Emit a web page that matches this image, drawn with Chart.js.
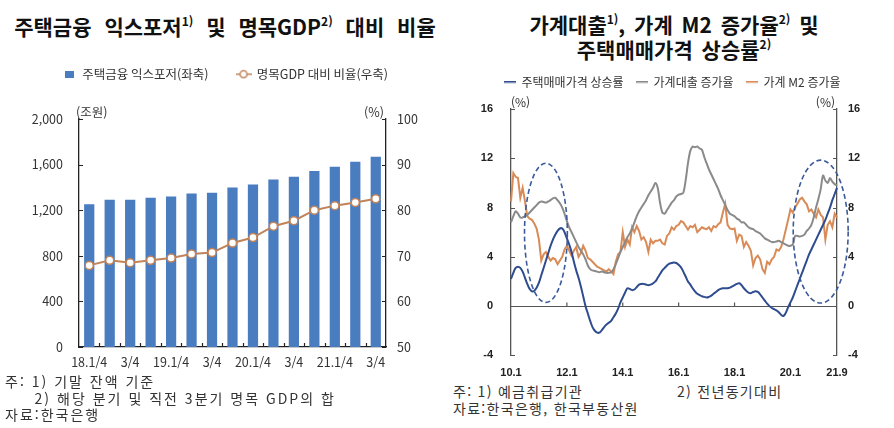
<!doctype html>
<html lang="ko">
<head>
<meta charset="utf-8">
<title>주택금융 익스포저 및 가계대출 증가율</title>
<script src="https://cdn.jsdelivr.net/npm/chart.js"></script>
<style>
    * { margin: 0; padding: 0; }
    body {
        width: 894px; height: 428px; position: relative; overflow: hidden;
        background: #fff; color: #222;
        font-family: "Noto Sans CJK KR", sans-serif;
    }
    .title {
        position: absolute; text-align: center; font-weight: 700;
        font-size: 21px; line-height: 25px; color: #111; word-spacing: 3px;
    }
    .title sup { font-size: 12px; vertical-align: 9px; line-height: 0; }
    .note {
        position: absolute; font-size: 14px; line-height: 16.5px;
        color: #333; letter-spacing: 2px; white-space: pre;
    }
    .note.r { letter-spacing: 1.3px; }
    canvas { position: absolute; }
</style>
</head>
<body>

<div class="title" style="left:0; top:14px; width:450px; word-spacing:7px;">주택금융 익스포저<sup>1)</sup> 및 명목GDP<sup>2)</sup> 대비 비율</div>
<div class="title" style="left:452px; top:12px; width:444px;">가계대출<sup>1)</sup>, 가계 M2 증가율<sup>2)</sup> 및<br>주택매매가격 상승률<sup>2)</sup></div>

<canvas id="leftChart" width="450" height="332" style="left:0; top:40px;"></canvas>
<canvas id="rightChart" width="444" height="316" style="left:450px; top:64px;"></canvas>

<div class="note" style="left:5px; top:373px;">주: 1) 기말 잔액 기준
     2) 해당 분기 및 직전 3분기 명목 GDP의 합
자료:한국은행</div>
<div class="note r" style="left:453px; top:383px;">주: 1) 예금취급기관
자료:한국은행, 한국부동산원</div>
<div class="note r" style="left:677px; top:383px;">2) 전년동기대비</div>

<script>
// ---- left chart: quarterly
const quarters = ['18.1/4', '2/4', '3/4', '4/4', '19.1/4', '2/4', '3/4', '4/4',
                  '20.1/4', '2/4', '3/4', '4/4', '21.1/4', '2/4', '3/4'];
const exposure = [1253, 1291, 1291, 1309, 1320, 1347, 1353, 1400, 1426, 1470, 1494, 1544, 1582, 1626, 1668];
const gdpRatio = [67.9, 69.0, 68.5, 69.0, 69.5, 70.4, 70.7, 72.8, 74.0, 76.5, 77.7, 80.0, 81.0, 81.7, 82.5];

// ---- right chart: monthly, 2010.1 ~ 2021.9
const months = [];
for (let yr = 10; yr <= 21; yr++) {
    for (let mo = 1; mo <= 12; mo++) {
        if (yr === 21 && mo > 9) break;
        months.push(yr + '.' + mo);
    }
}
const monthTicks = ['10.1', '12.1', '14.1', '16.1', '18.1', '20.1', '21.9'];

const houseRate = [
    2.2, 2.7, 3.1, 3.2, 3.1, 2.8, 2.3, 1.8, 1.4, 1.2,
    1.25, 1.5, 1.9, 2.5, 3.1, 3.7, 4.3, 4.9, 5.4, 5.8,
    6.1, 6.3, 6.3, 6.0, 5.5, 5.0, 4.4, 3.6, 2.9, 2.3,
    1.6, 0.8, 0.0, -0.6, -1.2, -1.7, -2.0, -2.15, -2.15, -1.95,
    -1.7, -1.5, -1.35, -1.2, -0.9, -0.6, -0.2, 0.3, 0.7, 1.1,
    1.45, 1.4, 1.3, 1.35, 1.55, 1.75, 1.8, 1.8, 1.75, 1.7,
    1.75, 1.85, 2.0, 2.3, 2.6, 2.9, 3.1, 3.3, 3.45, 3.5,
    3.55, 3.5, 3.35, 3.15, 2.8, 2.4, 2.0, 1.75, 1.45, 1.2,
    1.0, 0.9, 0.8, 0.75, 0.7, 0.75, 0.85, 1.0, 1.15, 1.3,
    1.4, 1.45, 1.45, 1.45, 1.5, 1.6, 1.7, 1.8, 1.85, 1.7,
    1.45, 1.25, 1.1, 1.05, 1.15, 1.2, 1.15, 0.95, 0.7, 0.45,
    0.2, 0.0, -0.15, -0.25, -0.35, -0.5, -0.7, -0.8, -0.55, -0.1,
    0.3, 0.7, 1.2, 1.7, 2.2, 2.7, 3.2, 3.7, 4.2, 4.6,
    5.0, 5.4, 5.8, 6.2, 6.6, 7.0, 7.5, 8.0, 8.6, 9.1,
    9.6
];
const loanRate = [
    6.8, 7.3, 7.7, 7.5, 7.2, 7.2, 7.3, 7.4, 7.6, 7.8,
    8.0, 8.2, 8.4, 8.5, 8.45, 8.4, 8.5, 8.6, 8.75, 8.8,
    8.6, 8.35, 8.0, 7.5, 6.9, 6.4, 6.0, 5.6, 5.2, 4.8,
    4.5, 4.2, 3.8, 3.3, 3.0, 2.9, 2.85, 2.8, 2.75, 2.8,
    2.75, 2.7, 2.7, 2.75, 3.0, 3.4, 3.9, 4.4, 4.8, 5.2,
    5.6, 5.9, 6.3, 6.8, 7.3, 7.7, 8.0, 8.3, 8.6, 9.0,
    9.3, 9.6, 10.0, 9.6, 8.4, 7.6, 7.5, 7.8, 8.1, 8.4,
    8.6, 8.9, 9.05, 9.1, 9.2, 10.2, 11.6, 12.6, 12.95, 12.9,
    12.95, 12.8, 12.7, 12.1, 11.6, 11.1, 10.7, 10.3, 9.9, 9.5,
    9.0, 8.6, 8.2, 7.8, 7.5, 7.4, 7.3, 7.1, 7.0, 6.8,
    6.8, 6.6, 6.4, 6.3, 6.25, 6.1, 6.0, 5.9, 5.7, 5.5,
    5.4, 5.3, 5.2, 5.2, 5.25, 5.3, 5.2, 5.1, 5.0, 4.9,
    4.9, 5.0, 5.7, 5.7, 5.65, 5.7, 5.8, 6.1, 6.3, 6.6,
    7.2, 8.0, 8.7, 9.5, 10.6, 10.2, 10.0, 10.4, 10.1, 9.9,
    9.8
];
const m2Rate = [
    8.5, 10.8, 10.5, 10.4, 8.8, 9.6, 8.5, 7.3, 7.1, 7.0,
    6.7, 6.3, 5.4, 3.7, 4.2, 4.4, 4.0, 3.7, 3.9, 3.8,
    3.4, 3.7, 4.0, 4.6, 4.9, 4.5, 4.1, 4.5, 4.8, 4.0,
    4.3, 4.9, 4.5, 3.9, 3.8, 3.6, 3.4, 3.2, 3.1, 3.0,
    2.9, 2.8, 3.0, 2.8, 2.6, 3.6, 4.2, 4.4, 6.0, 4.8,
    5.4, 5.0, 6.4, 6.0, 6.5, 6.1, 5.4, 5.6, 5.2, 4.4,
    5.4, 5.1, 5.3, 5.3, 5.4, 5.1, 5.0, 5.7, 5.9, 6.4,
    6.2, 6.5, 6.6, 6.9, 6.8, 6.5, 6.2, 6.5, 6.4, 6.6,
    6.0, 6.2, 6.4, 6.3, 6.25, 6.4, 6.1, 6.5, 6.4, 6.65,
    6.8, 7.6, 8.3, 6.6, 6.3, 6.25, 6.3, 5.3, 5.8, 5.7,
    4.8, 5.2, 4.9, 4.5, 3.3, 3.9, 4.1, 3.8, 3.0, 2.7,
    3.6, 3.4, 3.8, 4.0, 4.6, 4.5, 4.8, 5.4, 6.2, 7.0,
    7.85, 7.6, 8.0, 8.3, 8.66, 8.8, 8.5, 8.26, 7.7, 7.85,
    7.5, 7.2, 7.85, 7.4, 7.2, 5.4, 6.6, 6.9, 6.4, 7.5,
    7.2
];

// dashed circles, in data units: month index, value, radius in months / value
const highlights = [
    { m: 15, v: 5.95, rm: 9.2, rv: 5.65 },
    { m: 133, v: 6.05, rm: 11.8, rv: 5.8 }
];

Chart.defaults.font.family = '"Noto Sans CJK KR", sans-serif';
Chart.defaults.color = '#333';

// small legend icons
function icon(w, h, draw) {
    const c = document.createElement('canvas');
    c.width = w; c.height = h;
    draw(c.getContext('2d'));
    return c;
}
const barIcon = icon(9, 7, g => { g.fillStyle = '#4A7DC0'; g.fillRect(0, 0, 9, 7); });
const dotIcon = icon(16, 10, g => {
    g.strokeStyle = '#C0835A'; g.lineWidth = 1.5;
    g.beginPath(); g.moveTo(0, 5); g.lineTo(16, 5); g.stroke();
    g.fillStyle = '#fff'; g.beginPath(); g.arc(8, 5, 3.5, 0, Math.PI * 2); g.fill(); g.stroke();
});
const lineIcon = col => icon(12, 3, g => { g.fillStyle = col; g.fillRect(0, 0, 12, 2.2); });

// legend items in dataset order, each with its own icon
function legendItems(icons) {
    return function (chart) {
        const items = Chart.defaults.plugins.legend.labels.generateLabels(chart);
        items.sort((a, b) => a.datasetIndex - b.datasetIndex);
        items.forEach(it => { it.pointStyle = icons[it.datasetIndex]; });
        return items;
    };
}

// force the legend block height so the plot area lands where it should
function legendHeight(h) {
    return {
        id: 'legendHeight',
        beforeInit(chart) {
            const fit = chart.legend.fit;
            chart.legend.fit = function () { fit.call(this); this.height = h; };
        }
    };
}

// inward tick marks + unit labels
const axisMarks = {
    id: 'axisMarks',
    beforeDatasetsDraw(chart, args, opts) {
        const { ctx, chartArea: a, scales } = chart;
        ctx.save();
        ctx.strokeStyle = opts.color;
        ctx.lineWidth = 1.2;
        ctx.beginPath();
        scales.y.ticks.forEach(t => {
            const py = Math.round(scales.y.getPixelForValue(t.value)) + 0.5;
            ctx.moveTo(a.left, py); ctx.lineTo(a.left + 4, py);
        });
        scales.y2.ticks.forEach(t => {
            const py = Math.round(scales.y2.getPixelForValue(t.value)) + 0.5;
            ctx.moveTo(a.right, py); ctx.lineTo(a.right - 4, py);
        });
        if (opts.zeroLine) {
            const y0 = Math.round(scales.y.getPixelForValue(0)) + 0.5;
            ctx.moveTo(a.left, y0); ctx.lineTo(a.right, y0);
            opts.xMarks.forEach(lbl => {
                const px = scales.x.getPixelForValue(months.indexOf(lbl));
                ctx.moveTo(px, y0); ctx.lineTo(px, y0 - 4);
            });
        } else {
            const n = scales.x.ticks.length;
            const step = (a.right - a.left) / n;
            for (let i = 1; i < n; i++) {
                const px = Math.round(a.left + step * i) + 0.5;
                ctx.moveTo(px, a.bottom); ctx.lineTo(px, a.bottom - 4);
            }
        }
        ctx.stroke();

        ctx.fillStyle = '#333';
        ctx.font = opts.unitFont;
        ctx.textBaseline = 'bottom';
        ctx.textAlign = 'left';
        ctx.fillText(opts.leftUnit, a.left + opts.unitShift, a.top - 1);
        ctx.textAlign = 'right';
        ctx.fillText('(%)', a.right - 2, a.top - 1);
        ctx.restore();
    }
};

const ellipses = {
    id: 'ellipses',
    afterDatasetsDraw(chart) {
        const { ctx, scales: { x, y } } = chart;
        const unitX = x.getPixelForValue(1) - x.getPixelForValue(0);
        ctx.save();
        ctx.strokeStyle = '#3B5A9A';
        ctx.lineWidth = 1.6;
        ctx.setLineDash([5, 3]);
        highlights.forEach(h => {
            const cx = x.getPixelForValue(h.m);
            const cy = y.getPixelForValue(h.v);
            const ry = Math.abs(y.getPixelForValue(h.v + h.rv) - cy);
            ctx.beginPath();
            ctx.ellipse(cx, cy, h.rm * unitX, ry, 0, 0, Math.PI * 2);
            ctx.stroke();
        });
        ctx.restore();
    }
};

const leftFont = { size: 12.5 };
new Chart(document.getElementById('leftChart'), {
    data: {
        labels: quarters,
        datasets: [
            {
                type: 'bar', label: '주택금융 익스포저(좌축)', data: exposure,
                backgroundColor: '#4A7DC0', yAxisID: 'y',
                barPercentage: 0.5, categoryPercentage: 1, order: 2
            },
            {
                type: 'line', label: '명목GDP 대비 비율(우축)', data: gdpRatio,
                borderColor: '#C0835A', borderWidth: 2, yAxisID: 'y2',
                pointRadius: 4, pointBackgroundColor: '#fff',
                pointBorderColor: '#C0835A', pointBorderWidth: 1.5, order: 1
            }
        ]
    },
    options: {
        responsive: false,
        animation: false,
        plugins: {
            tooltip: { enabled: false },
            legend: {
                labels: {
                    usePointStyle: true, pointStyleWidth: 14, padding: 28,
                    font: { size: 12.5 }, color: '#333',
                    generateLabels: legendItems([barIcon, dotIcon])
                }
            },
            axisMarks: { color: '#222', leftUnit: '(조원)', unitShift: -3, unitFont: '12.5px "Noto Sans CJK KR"' }
        },
        scales: {
            x: {
                grid: { display: false, drawTicks: false },
                border: { color: '#222', width: 1.3 },
                ticks: {
                    autoSkip: false, maxRotation: 0, padding: 8, font: leftFont, color: '#333',
                    callback: (v, i) => (i % 2 === 0 ? quarters[i] : '')
                },
                afterFit(s) { s.height = 25; }
            },
            y: {
                position: 'left', min: 0, max: 2000,
                grid: { display: false, drawTicks: false },
                border: { color: '#222', width: 1.3 },
                ticks: {
                    stepSize: 400, padding: 16, font: leftFont, color: '#333',
                    callback: v => v.toLocaleString('en-US')
                },
                afterFit(s) { s.width = 79; }
            },
            y2: {
                position: 'right', min: 50, max: 100,
                grid: { display: false, drawTicks: false },
                border: { color: '#222', width: 1.3 },
                ticks: { stepSize: 10, padding: 11, font: leftFont, color: '#333' },
                afterFit(s) { s.width = 64; }
            }
        }
    },
    plugins: [legendHeight(79), axisMarks]
});

const rightFont = { size: 11, weight: 'bold', family: '"Liberation Sans", Arial, sans-serif' };
const lineColors = ['#2E4C8E', '#8A8A8A', '#D98B57'];
new Chart(document.getElementById('rightChart'), {
    type: 'line',
    data: {
        labels: months,
        datasets: [
            { label: '주택매매가격 상승률', data: houseRate, borderColor: lineColors[0], borderWidth: 2, pointRadius: 0, tension: 0.4 },
            { label: '가계대출 증가율', data: loanRate, borderColor: lineColors[1], borderWidth: 2, pointRadius: 0, tension: 0.3 },
            { label: '가계 M2 증가율', data: m2Rate, borderColor: lineColors[2], borderWidth: 2, pointRadius: 0 }
        ]
    },
    options: {
        responsive: false,
        animation: false,
        plugins: {
            tooltip: { enabled: false },
            legend: {
                labels: {
                    usePointStyle: true, pointStyleWidth: 12, padding: 12,
                    font: { size: 12 }, color: '#333',
                    generateLabels: legendItems(lineColors.map(lineIcon))
                }
            },
            axisMarks: {
                color: '#555', leftUnit: '(%)', unitShift: 0, unitFont: '12px "Noto Sans CJK KR"',
                zeroLine: true, xMarks: ['12.1', '14.1', '16.1', '18.1', '20.1']
            }
        },
        scales: {
            x: {
                offset: false,
                grid: { display: false, drawTicks: false },
                border: { display: false },
                ticks: {
                    autoSkip: false, maxRotation: 0, padding: 11, font: rightFont, color: '#222',
                    callback: (v, i) => (monthTicks.includes(months[i]) ? months[i] : '')
                },
                afterFit(s) { s.height = 23; }
            },
            y: {
                position: 'left', min: -4, max: 16,
                grid: { display: false, drawTicks: false },
                border: { color: '#555', width: 1.3 },
                ticks: { stepSize: 4, padding: 18, font: rightFont, color: '#222' },
                afterFit(s) { s.width = 61; }
            },
            y2: {
                position: 'right', min: -4, max: 16,
                grid: { display: false, drawTicks: false },
                border: { color: '#555', width: 1.3 },
                ticks: { stepSize: 4, padding: 11, font: rightFont, color: '#222' },
                afterFit(s) { s.width = 57; }
            }
        }
    },
    plugins: [legendHeight(45), axisMarks, ellipses]
});
</script>
</body>
</html>
